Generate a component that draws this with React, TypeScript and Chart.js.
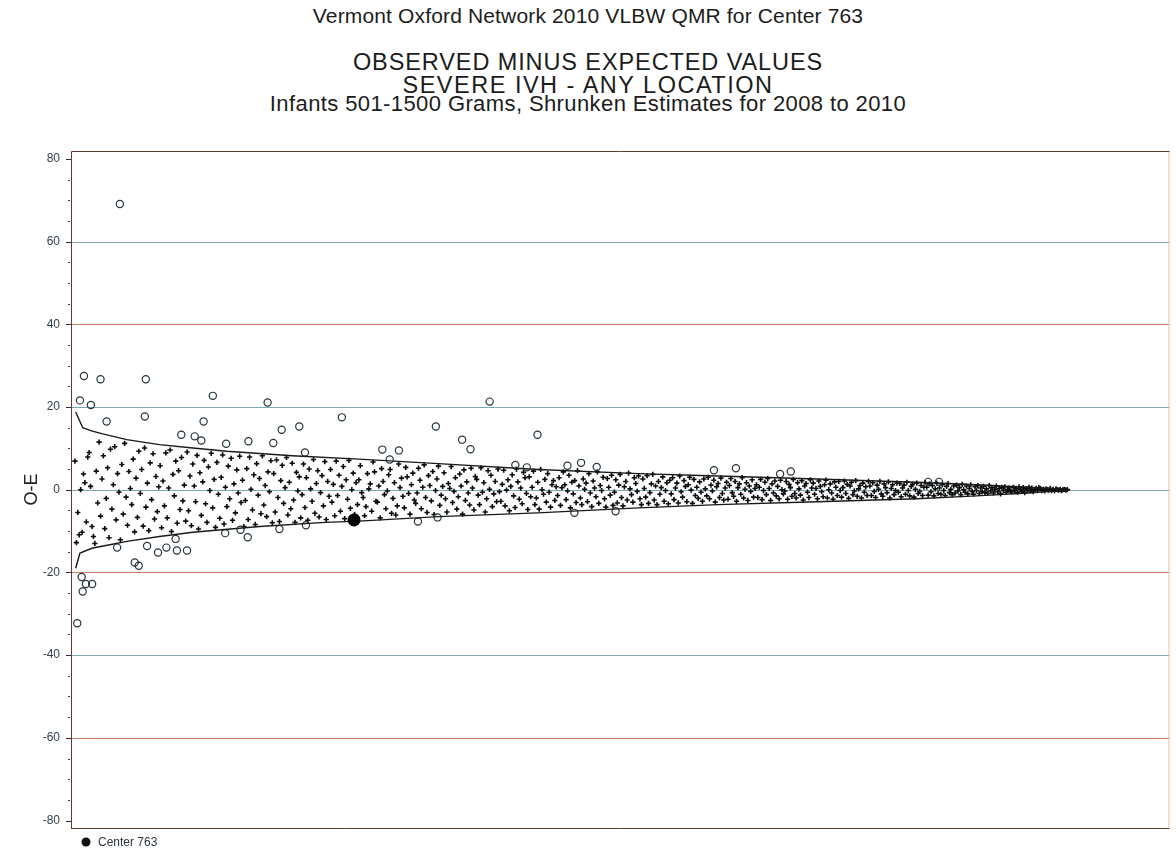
import React, { useEffect, useRef } from "react";
import { Chart, registerables } from "chart.js";

Chart.register(...registerables);

const TITLE_1 = "Vermont Oxford Network 2010 VLBW QMR for Center 763";
const TITLE_2 = "OBSERVED MINUS EXPECTED VALUES";
const TITLE_3 = "SEVERE IVH - ANY LOCATION";
const TITLE_4 = "Infants 501-1500 Grams, Shrunken Estimates for 2008 to 2010";
const Y_TITLE = "O-E";
const LEGEND_LABEL = "Center 763";

const Y_TICKS = [-80, -60, -40, -20, 0, 20, 40, 60, 80];
const Y_MINOR_STEP = 5;
const Y_MIN = -81.8;
const Y_MAX = 81.9;
const X_MIN = -1.8;
const X_MAX = 772;
const RED_GRID = [40, -20, -60];

// centers ranked by size (rank 1 = largest), O-E values inside the limits
const CROSS_VALUES = [
  6.9, -12.8, -5.5, -10.9, 0, -10.3, 3.8, 1.7, -7.8, 7.9, 9, 0.8, -8.9, -11.3, -13, 4.5, -3.2, 11.5, -6.4, 2.6,
  8.2, -9.4, -2.1, 5.3, -11.6, 9.8, -4.7, 1.2, 10.4, -7.3, 3.9, -0.6, -12.1, 6.1, -5.9, 11.2, -1.8, -8.6, 4.4, 0.3,
  -3.6, 7.4, -10.2, 2.8, -6.7, 9.3, -0.9, 4.9, -8.8, 10.1, -4.2, 1.6, -9.9, 6.5, -2.4, 8.7, -7.1, 3.2, -5.3, 0.7,
  5.8, -9.2, 2.1, -3.9, 8.9, -6.8, 0.4, 9.6, -10.1, 3.7, -1.5, 6.9, -8.1, 4.6, -4.8, 7.8, -2.7, 1.1, -7.6, 9.1,
  -5.1, 3.3, -8.7, 6.2, 0.9, -2.9, 8.3, -9.5, 4.1, -6.2, 1.9, 7.1, -3.4, -7.9, 5.5, -0.2, 8.8, -4.4, 2.5, -9.1,
  6.6, -1.1, -6.9, 3.0, 8.4, -8.3, 0.6, -4.1, 5.7, -2.2, 7.6, -7.4, 1.4, -5.6, 4.8, -0.8, 8.1, -3.1, 2.3, -8.9,
  -2.6, 5.1, -7.2, 7.9, 0.1, -4.9, 3.6, -8.4, 6.3, -1.3, 2.7, -5.8, 8.2, -3.7, 1.0, -6.5, 4.3, -0.5, 7.0, -8.0,
  3.9, -5.4, 7.2, -1.9, -7.7, 2.2, 5.9, -3.3, 0.5, 7.8, -6.1, 1.8, -4.6, 6.4, -2.5, -7.9, 4.2, -0.3, 3.1, -6.8,
  -1.2, 6.2, -4.3, 2.9, -7.4, 5.0, 0.2, -2.8, 7.3, -5.7, 1.5, 4.6, -6.6, -0.7, 3.4, -3.9, 6.8, -7.2, 2.0, -1.6,
  4.9, -3.0, 1.3, -6.3, 6.9, -1.4, 3.5, -5.2, 0.8, 5.6, -7.0, 2.4, -2.3, 7.1, -4.5, 0.0, 4.0, -6.0, 1.7, -3.6,
  2.4, 5.8, -0.7, -1.9, -6.3, -4.1, 3.9, 0.2, 1.4, -5.2, 6.7, 4.3, -2.8, -3.0, 0.9, -6.8, 5.1, 2.0, -1.2, -4.6,
  -0.3, 3.6, 4.9, -5.7, -2.1, 1.7, -6.1, -3.9, 6.2, 0.5, 2.8, -1.6, -4.4, 5.4, 3.1, -0.9, -5.9, 1.2, 4.0, -2.5,
  -3.3, -0.8, 5.2, 2.3, -4.6, 0.6, 6.0, -1.9, -5.5, 3.4, 1.0, -2.7, 4.4, -6.0, -0.2, 2.6, 5.7, -3.8, -1.3, 0.8,
  4.1, -2.2, -5.4, 1.5, 0.3, 5.6, -3.1, -0.4, 2.9, -4.7, -1.7, 3.8, 0.9, -5.9, 4.8, -2.6, 1.9, -0.8, -3.7, 5.2,
  0.4, -4.9, 3.2, 2.5, -1.3, -3.6, 5.3, -0.6, 1.7, -5.4, -2.2, 4.6, 0.1, 3.5, -4.1, -1.0, 2.0, -2.9, 5.0, -0.5,
  -2.8, 1.3, 4.7, -3.9, -0.1, 2.4, -5.1, 0.8, 3.6, -1.5, -4.3, 5.0, 1.9, -2.3, 0.4, -3.4, 4.2, 2.9, -0.9, -4.8,
  3.1, -1.7, 0.6, 4.5, -3.6, -2.0, 1.8, -4.7, 4.9, 0.0, -1.1, 2.5, -3.0, 3.9, -0.6, -4.2, 1.2, 2.2, -2.6, 0.7,
  -1.4, 2.9, -3.8, 0.5, 4.3, 1.2, -2.4, -0.3, 3.5, -4.4, 1.8, -1.0, 2.2, -3.1, 4.6, 0.9, -2.0, -3.6, 2.6, 0.1,
  1.6, -2.9, 3.9, -0.8, -4.1, 2.1, 0.4, -1.7, 4.3, -3.3, 1.0, -0.2, 3.0, -2.2, -4.2, 2.7, 0.6, -1.3, 3.5, -3.8,
  -0.6, 2.4, -3.2, 1.1, 3.7, -1.9, -3.9, 0.7, 2.0, -2.5, 4.0, 0.2, -1.2, -3.0, 2.9, 1.5, -0.4, 3.3, -2.2, -3.6,
  2.6, 0.3, -1.8, 3.4, -3.3, -0.7, 1.4, 3.7, -2.5, 0.9, -3.6, 2.0, -1.1, 0.5, 3.1, -2.8, -0.2, 1.7, -3.4, 2.3,
  -1.0, 2.9, -2.4, 0.4, 1.6, -3.2, 3.3, -0.5, -1.8, 2.2, 0.8, -2.9, 1.2, 3.0, -0.1, -3.3, 2.5, -1.4, 0.6, -2.1,
  1.9, -0.6, -2.8, 2.6, 0.2, -1.5, 3.0, -2.2, 1.1, -0.3, 2.3, -3.0, 0.7, 1.5, -1.9, 2.8, -0.9, -2.5, 0.4, 1.8,
  -2.3, 1.0, 2.7, -0.7, -1.6, 2.0, -2.8, 0.5, 1.4, -1.1, 2.9, -2.0, 0.1, 1.7, -2.6, 0.9, -0.4, 2.4, -1.8, 0.3,
  1.2, -1.9, 0.6, 2.5, -2.4, -0.2, 1.8, -1.2, 2.7, 0.3, -2.6, 1.4, -0.8, 2.1, -1.5, 0.8, -2.2, 2.3, 0.0, -1.0,
  -0.3, 2.0, -2.3, 1.3, 0.5, -1.6, 2.5, -0.9, -2.0, 1.7, 0.2, -1.3, 2.2, -2.5, 0.9, 1.5, -0.6, -1.9, 2.4, 0.4,
  1.6, -1.1, 0.3, -2.2, 2.1, 0.8, -0.5, -1.7, 1.2, 2.3, -2.0, 0.0, 1.4, -0.8, -2.3, 1.9, 0.6, -1.4, 2.0, -0.2,
  -1.8, 0.5, 2.1, -0.9, 1.3, -2.1, 0.9, 1.8, -1.2, -0.3, 2.2, -1.6, 0.2, 1.0, -2.0, 1.6, -0.6, 0.7, -1.4, 2.0,
  0.9, -1.4, 1.7, -0.4, -1.9, 1.1, 0.1, 2.0, -1.0, -1.6, 1.4, 0.5, -0.7, 1.9, -2.0, 0.3, 1.2, -1.2, -0.2, 1.6,
  -0.6, 1.5, -1.7, 0.4, 1.1, -1.1, 1.8, -0.2, -1.5, 0.8, 1.3, -1.8, 0.1, 1.6, -0.9, -0.4, 1.0, -1.4, 0.6, 1.7,
  0.6, -1.3, 1.4, -0.5, 1.0, -1.5, 0.2, 1.6, -0.9, 0.4, -1.1, 1.2, -0.2, -1.4, 0.8, 1.5, -0.7, 0.1, -1.2, 0.9,
  -0.8, 1.1, -0.3, 0.5, -1.2, 1.3, 0.0, -0.6, 0.9, -1.0, 0.3, 1.2, -0.4, -1.1, 0.7, -0.2, 1.0, -0.9, 0.4, -0.5,
  0.8, -0.7, 0.2, -0.9, 1.0, -0.3, 0.5, -0.8, 0.1, 0.9, -0.5, 0.3, -1.0, 0.6, -0.2, 0.7, -0.6, 0.0, 0.4, -0.4,
  -0.5, 0.6, -0.2, 0.3, -0.6, 0.7, 0.1, -0.4, 0.5, -0.7, 0.2, -0.1, 0.6, -0.3, 0.4, -0.5, 0.0, 0.3, -0.2, 0.5,
  0.3, -0.2, 0.1, -0.3, 0.2, 0.0, -0.1, 0.3, -0.2, 0.1, -0.3, 0.2, 0.0, -0.1, 0.1, -0.2, 0.0, 0.1, -0.1, 0.0,
];

// centers outside the limits (open circles): rank and O-E
const OUTLIER_RANK = [
  2.6, 4.5, 5.7, 6.4, 7.3, 8.7, 12.2, 13.1, 19, 23.3, 30.7, 32.6, 43.1, 45.9, 50.2, 50.9, 51.8, 59.5, 65.4, 71.9,
  72.8, 75.9, 79.9, 85.3, 90, 91.6, 98.1, 106.8, 107.5, 117.6, 122.7, 123.2, 136.7, 140.7, 145, 146.6, 159, 163, 163.7, 189,
  217.5, 222.7, 229.2, 242.6, 255.2, 256.4, 273.7, 279.6, 293.1, 311.2, 319.3, 326.8, 347.9, 352.8, 357.5, 368.5, 381.8, 451.1, 466.6, 497.7,
  505.2, 601.9, 609.6,
];
const OUTLIER_VALUE = [
  -32.3, 21.6, -21.1, -24.6, 27.5, -22.8, 20.5, -22.8, 26.7, 16.5, -14, 69.1, -17.6, -18.4, 17.7, 26.7, -13.6, -15.2, -14, -11.9,
  -14.7, 13.3, -14.7, 12.9, 11.9, 16.5, 22.7, -10.5, 11.1, -9.7, -11.5, 11.7, 21.1, 11.3, -9.5, 14.5, 15.3, 9.0, -8.6, 17.5,
  9.7, 7.3, 9.5, -7.7, 15.3, -6.7, 12.1, 9.8, 21.3, 6.0, 5.4, 13.3, 5.8, -5.6, 6.5, 5.5, -5.2, 4.7, 5.2, 3.8,
  4.4, 1.9, 1.9,
];

const UPPER_RANK = [1.5, 4.5, 6.5, 12, 20.5, 37.5, 60.5, 84, 108, 154, 201, 257, 327, 398, 454, 524, 566, 594, 636, 672, 702];
const UPPER_VALUE = [18.8, 16.5, 15.0, 14.3, 13.5, 12.1, 10.9, 10.1, 9.3, 8.2, 7.4, 6.3, 4.9, 3.9, 3.3, 2.6, 2.1, 1.8, 1.2, 0.6, 0.05];
const LOWER_RANK = [1.5, 4.5, 13.5, 25.5, 37.5, 60.5, 84, 131, 177, 201, 257, 327, 398, 454, 524, 594, 636, 672, 702];
const LOWER_VALUE = [-19, -15.3, -14.1, -13.3, -12.5, -11.3, -10.3, -8.9, -7.9, -7.6, -6.5, -5.6, -4.4, -3.6, -2.9, -2.2, -1.5, -0.8, -0.05];

const CENTER_RANK = [197.6];
const CENTER_VALUE = [-7.3];

const FONT = "'Liberation Sans', Arial, sans-serif";

const toPoints = (xs: number[], ys: number[]) => xs.map((x, i) => ({ x, y: ys[i] }));

const decorPlugin = {
  id: "decor",
  beforeDatasetsDraw(chart: any) {
    const { ctx, chartArea } = chart;
    const y = chart.scales.y;
    const { left, right, top, bottom } = chartArea;
    ctx.save();
    ctx.lineWidth = 1.2;
    Y_TICKS.forEach((v) => {
      if (Math.abs(v) === 80) return;
      const py = Math.round(y.getPixelForValue(v)) + 0.5;
      ctx.strokeStyle = RED_GRID.includes(v) ? "#cf7c64" : "#7fa8b6";
      ctx.beginPath();
      ctx.moveTo(left, py);
      ctx.lineTo(right, py);
      ctx.stroke();
    });
    ctx.lineWidth = 1;
    // frame
    ctx.strokeStyle = "#f0b9a2";
    ctx.beginPath();
    ctx.moveTo(right - 0.5, top);
    ctx.lineTo(right - 0.5, bottom);
    ctx.stroke();
    ctx.strokeStyle = "#5c3b32";
    ctx.beginPath();
    ctx.moveTo(left + 0.5, bottom + 0.5);
    ctx.lineTo(left + 0.5, top + 0.5);
    ctx.lineTo(right, top + 0.5);
    ctx.moveTo(left, bottom + 0.5);
    ctx.lineTo(right, bottom + 0.5);
    ctx.stroke();
    // tick marks
    ctx.strokeStyle = "#333";
    for (let v = -80; v <= 80; v += Y_MINOR_STEP) {
      const py = Math.round(y.getPixelForValue(v)) + 0.5;
      const major = Y_TICKS.includes(v);
      ctx.beginPath();
      ctx.moveTo(left - (major ? 5 : 3), py);
      ctx.lineTo(left - (major ? 0 : 1), py);
      ctx.stroke();
    }
    ctx.restore();
  },
  afterDraw(chart: any) {
    const { ctx, chartArea } = chart;
    ctx.save();
    const cy = chartArea.bottom + 14;
    const cx = chartArea.left + 15;
    ctx.fillStyle = "#111";
    ctx.beginPath();
    ctx.arc(cx, cy, 4.5, 0, Math.PI * 2);
    ctx.fill();
    ctx.font = `12px ${FONT}`;
    ctx.fillStyle = "#2e3540";
    ctx.textBaseline = "middle";
    ctx.textAlign = "left";
    ctx.fillText(LEGEND_LABEL, cx + 12, cy + 0.5);
    ctx.restore();
  },
};

export default function App() {
  const ref = useRef<HTMLCanvasElement>(null);

  useEffect(() => {
    const canvas = ref.current;
    if (!canvas) return;
    const chart = new Chart(canvas, {
      type: "scatter",
      data: {
        datasets: [
          {
            label: LEGEND_LABEL,
            data: toPoints(CENTER_RANK, CENTER_VALUE),
            pointStyle: "circle",
            pointRadius: 6.5,
            backgroundColor: "#000",
            borderColor: "#000",
            borderWidth: 0,
          },
          {
            label: "upper",
            data: toPoints(UPPER_RANK, UPPER_VALUE),
            showLine: true,
            pointRadius: 0,
            borderColor: "#1a1a1a",
            borderWidth: 1.4,
            tension: 0,
          },
          {
            label: "lower",
            data: toPoints(LOWER_RANK, LOWER_VALUE),
            showLine: true,
            pointRadius: 0,
            borderColor: "#1a1a1a",
            borderWidth: 1.4,
            tension: 0,
          },
          {
            label: "outliers",
            data: toPoints(OUTLIER_RANK, OUTLIER_VALUE),
            pointStyle: "circle",
            pointRadius: 3.6,
            backgroundColor: "rgba(255,255,255,0)",
            borderColor: "#26343c",
            borderWidth: 1.2,
          },
          {
            label: "centers",
            data: CROSS_VALUES.map((v, i) => ({ x: i + 1, y: v })),
            pointStyle: "cross",
            pointRadius: 2.6,
            borderColor: "#0c0c0c",
            backgroundColor: "#0c0c0c",
            borderWidth: 1.6,
          },
        ],
      },
      options: {
        responsive: false,
        animation: false,
        events: [],
        layout: { padding: { top: 151, right: 3, bottom: 26, left: 0 } },
        plugins: {
          legend: { display: false },
          title: { display: false },
          tooltip: { enabled: false },
        },
        scales: {
          x: { type: "linear", display: false, min: X_MIN, max: X_MAX },
          y: {
            type: "linear",
            min: Y_MIN,
            max: Y_MAX,
            afterBuildTicks: (scale: any) => {
              scale.ticks = Y_TICKS.map((v) => ({ value: v }));
            },
            afterFit: (scale: any) => {
              scale.width = 71;
            },
            grid: { display: false, drawTicks: false },
            border: { display: false },
            ticks: {
              padding: 11,
              color: "#34404f",
              font: { family: FONT, size: 12 },
              autoSkip: false,
            },
            title: {
              display: true,
              text: Y_TITLE,
              color: "#222",
              font: { family: FONT, size: 18 },
              padding: { top: 21, bottom: 0 },
            },
          },
        },
      },
      plugins: [decorPlugin],
    });
    return () => chart.destroy();
  }, []);

  const lineStyle = (top: number, size: number, spacing: number): React.CSSProperties => ({
    position: "absolute",
    left: 0,
    top,
    width: 1176,
    textAlign: "center",
    fontFamily: FONT,
    fontSize: size,
    lineHeight: 1,
    letterSpacing: spacing,
    color: "#1c1c1c",
    whiteSpace: "nowrap",
  });

  return (
    <div style={{ position: "fixed", left: 0, top: 0, width: 1176, height: 854, background: "#fff" }}>
      <div style={lineStyle(5, 21, 0.15)}>{TITLE_1}</div>
      <div style={lineStyle(51, 23.5, 0.9)}>{TITLE_2}</div>
      <div style={lineStyle(74, 23.5, 1.5)}>{TITLE_3}</div>
      <div style={lineStyle(93, 22, 0.4)}>{TITLE_4}</div>
      <canvas ref={ref} width={1176} height={854} style={{ position: "absolute", left: 0, top: 0 }} />
    </div>
  );
}
